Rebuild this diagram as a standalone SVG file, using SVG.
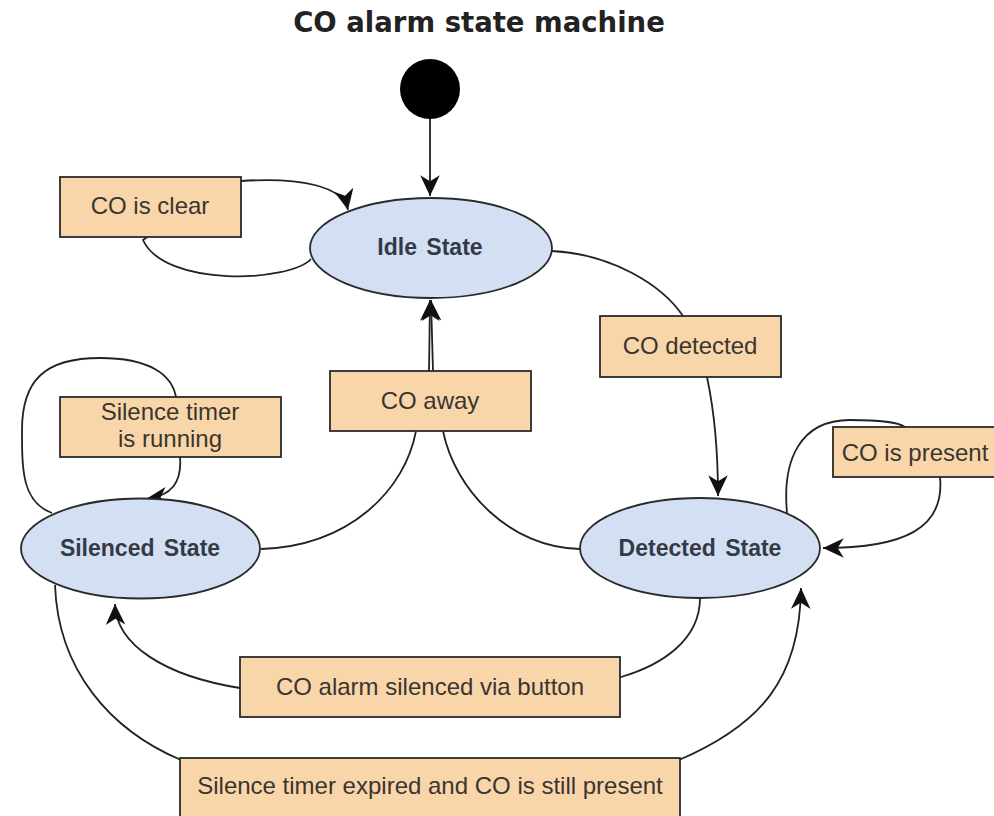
<svg xmlns="http://www.w3.org/2000/svg" width="994" height="816" viewBox="0 0 994 816">
<style>
.edge{fill:none;stroke:#222;stroke-width:1.8}
.state ellipse{fill:#D3E0F3;stroke:#2a2a2a;stroke-width:1.8}
.state text{font-family:"Liberation Sans",Arial,sans-serif;font-weight:bold;font-size:23px;fill:#333a44;text-anchor:middle;word-spacing:3px}
.lbl rect{fill:#F9D6A9;stroke:#2a2a2a;stroke-width:1.8}
.lbl text{font-family:"Liberation Sans",Arial,sans-serif;font-size:24px;fill:#3a3530;text-anchor:middle}
</style>
<defs>
<marker id="arr" viewBox="0 0 18 17" refX="17" refY="8.5" markerWidth="22" markerHeight="20.8" orient="auto" markerUnits="userSpaceOnUse">
<path d="M0,0.5 L17,8.5 L0,16.5 L5,8.5 z" fill="#111"/>
</marker>
</defs>
<rect width="994" height="816" fill="#fff"/>
<text x="479" y="32" font-family="DejaVu Sans,Verdana,sans-serif" font-weight="bold" font-size="27.5" fill="#222" text-anchor="middle">CO alarm state machine</text>

<g id="connectors">
<line class="edge" x1="430" y1="118" x2="430" y2="196" marker-end="url(#arr)"/>
<path class="edge" d="M311 259 C 290 282, 165 288, 143 240 L 200 200 L 241 181 C 300 177, 343 186, 348 210" marker-end="url(#arr)"/>
<path class="edge" d="M552 251 C 612 254, 662 285, 683 316 L 707 377 C 714 410, 718 450, 718 496" marker-end="url(#arr)"/>
<path class="edge" d="M261 549 C 350 546, 405 490, 416 431 L 429 371 L 430 300" marker-end="url(#arr)"/>
<path class="edge" d="M580 549 C 510 548, 455 490, 443 431 L 433 371 L 431 300" marker-end="url(#arr)"/>
<path class="edge" d="M52 513 C 22 502, 22 470, 22 430 C 22 380, 45 358, 100 358 C 150 358, 172 375, 176 397 L 180 457 C 182 482, 172 496, 146 499" marker-end="url(#arr)"/>
<path class="edge" d="M787 513 C 782 460, 800 420, 850 420 C 880 420, 898 422, 905 427 L 940 477 C 945 528, 905 548, 823 548" marker-end="url(#arr)"/>
<path class="edge" d="M700 598 C 700 640, 662 665, 621 677 L 240 688 C 165 676, 116 645, 115 604" marker-end="url(#arr)"/>
<path class="edge" d="M55 585 C 58 670, 110 730, 181 760 L 679 760 C 760 725, 800 680, 801 588" marker-end="url(#arr)"/>
</g>

<g id="initial"><circle cx="430" cy="89" r="30" fill="#000"/></g>

<g id="idle" class="state"><ellipse cx="431" cy="248" rx="121" ry="50"/><text x="430" y="255">Idle State</text></g>
<g id="silenced" class="state"><ellipse cx="140.5" cy="548.5" rx="119.5" ry="50"/><text x="140" y="556">Silenced State</text></g>
<g id="detected" class="state"><ellipse cx="700" cy="548" rx="120" ry="50"/><text x="700" y="556">Detected State</text></g>

<g id="lbl-clear" class="lbl"><rect x="60" y="177" width="181" height="60"/><text x="150" y="214">CO is clear</text></g>
<g id="lbl-detected" class="lbl"><rect x="600" y="316" width="181" height="61"/><text x="690" y="354">CO detected</text></g>
<g id="lbl-away" class="lbl"><rect x="330" y="371" width="201" height="60"/><text x="430" y="409">CO away</text></g>
<g id="lbl-running" class="lbl"><rect x="60" y="397" width="221" height="60"/><text x="170" y="420">Silence timer</text><text x="170" y="447">is running</text></g>
<g id="lbl-present" class="lbl"><rect x="833" y="427" width="166" height="50"/><text x="915" y="461">CO is present</text></g>
<g id="lbl-button" class="lbl"><rect x="240" y="657" width="380" height="60"/><text x="430" y="695">CO alarm silenced via button</text></g>
<g id="lbl-expired" class="lbl"><rect x="180" y="758" width="500" height="62"/><text x="430" y="794">Silence timer expired and CO is still present</text></g>
</svg>
